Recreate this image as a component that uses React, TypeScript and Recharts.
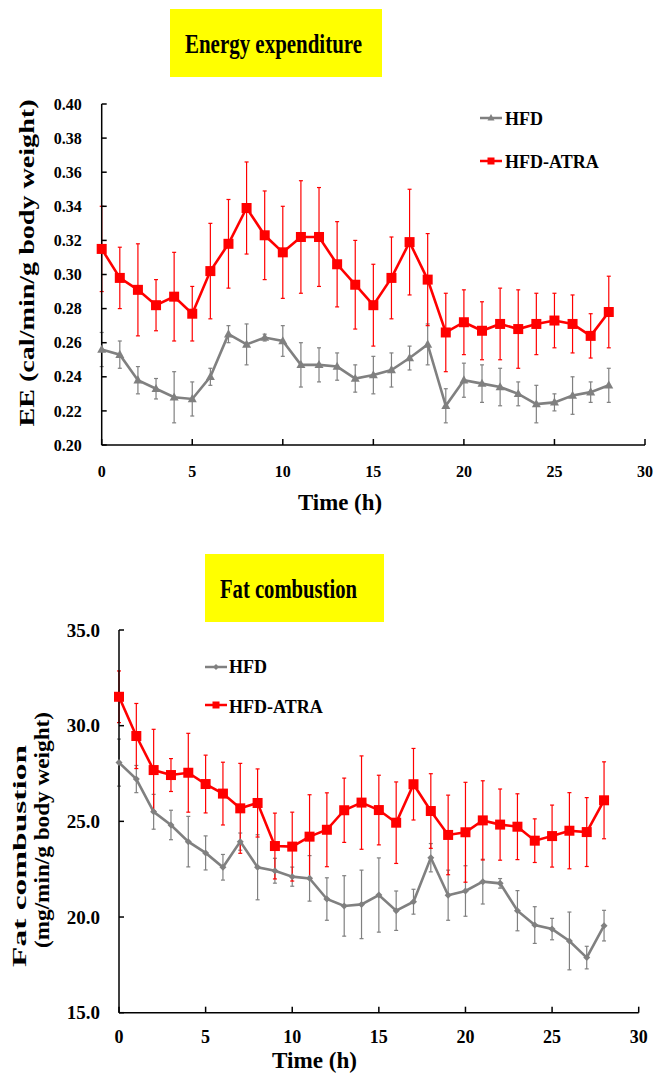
import React from 'react';
import { LineChart, Line, XAxis, YAxis, ErrorBar } from 'recharts';

const FONT = '"Liberation Serif", "Times New Roman", serif';

// ---------- data ----------
const hours = [0, 1, 2, 3, 4, 5, 6, 7, 8, 9, 10, 11, 12, 13, 14, 15, 16, 17, 18, 19, 20, 21, 22, 23, 24, 25, 26, 27, 28];

const eeHFD = [0.256, 0.253, 0.238, 0.233, 0.228, 0.227, 0.240, 0.265, 0.259, 0.263, 0.261, 0.247, 0.247, 0.246, 0.239, 0.241, 0.244, 0.251, 0.259, 0.223, 0.238, 0.236, 0.234, 0.230, 0.224, 0.225, 0.229, 0.231, 0.235];
const eeHFDErr = [0.010, 0.008, 0.008, 0.006, 0.015, 0.010, 0.005, 0.005, 0.012, 0.002, 0.009, 0.013, 0.010, 0.008, 0.008, 0.011, 0.010, 0.007, 0.012, 0.010, 0.010, 0.011, 0.011, 0.007, 0.011, 0.005, 0.011, 0.006, 0.010];
const eeATRA = [0.315, 0.298, 0.291, 0.282, 0.287, 0.277, 0.302, 0.318, 0.339, 0.323, 0.313, 0.322, 0.322, 0.306, 0.294, 0.282, 0.298, 0.319, 0.297, 0.266, 0.272, 0.267, 0.271, 0.268, 0.271, 0.273, 0.271, 0.264, 0.278];
const eeATRAErr = [0.025, 0.018, 0.027, 0.015, 0.026, 0.016, 0.028, 0.026, 0.027, 0.026, 0.027, 0.033, 0.029, 0.025, 0.026, 0.024, 0.024, 0.031, 0.027, 0.023, 0.019, 0.017, 0.021, 0.023, 0.018, 0.016, 0.017, 0.013, 0.021];

const fatHFD = [28.07, 27.21, 25.50, 24.81, 23.94, 23.35, 22.60, 23.94, 22.60, 22.42, 22.11, 22.02, 20.94, 20.58, 20.66, 21.15, 20.33, 20.80, 23.10, 21.14, 21.36, 21.85, 21.76, 20.33, 19.58, 19.37, 18.75, 17.88, 19.55];
const fatHFDErr = [1.23, 0.71, 0.91, 0.77, 1.32, 0.89, 0.67, 0.45, 1.70, 0.65, 0.50, 1.19, 1.11, 1.58, 1.79, 1.94, 1.03, 0.65, 0.74, 1.31, 1.32, 1.17, 0.25, 1.05, 0.96, 0.56, 1.51, 0.59, 0.80];
const fatATRA = [31.51, 29.46, 27.68, 27.42, 27.54, 26.95, 26.45, 25.68, 25.96, 23.71, 23.68, 24.20, 24.56, 25.58, 25.98, 25.59, 24.93, 26.94, 25.54, 24.29, 24.43, 25.05, 24.83, 24.72, 23.99, 24.23, 24.51, 24.44, 26.10];
const fatATRAErr = [1.35, 1.70, 2.13, 0.86, 2.06, 1.51, 1.64, 2.35, 1.78, 1.72, 1.80, 2.19, 1.93, 1.68, 2.44, 1.82, 2.13, 1.87, 1.95, 2.08, 2.61, 2.07, 1.86, 1.72, 1.14, 1.62, 1.99, 1.80, 2.01];

const xTicks = [0, 5, 10, 15, 20, 25, 30];
const eeTicks = [0.2, 0.22, 0.24, 0.26, 0.28, 0.3, 0.32, 0.34, 0.36, 0.38, 0.4];
const fatTicks = [15, 20, 25, 30, 35];

const seriesNames = ['HFD', 'HFD-ATRA'];

const eeData = hours.map((h, i) => ({ h, hfd: eeHFD[i], hfdErr: eeHFDErr[i], atra: eeATRA[i], atraErr: eeATRAErr[i] }));
const fatData = hours.map((h, i) => ({ h, hfd: fatHFD[i], hfdErr: fatHFDErr[i], atra: fatATRA[i], atraErr: fatATRAErr[i] }));

const RED = '#ff0000';
const GRAY = '#808080';

// ---------- markers ----------
const squareDot = (size: number) => (props: any) => {
  const { cx, cy, index } = props;
  if (cx == null || cy == null) return <g key={`s${index}`} />;
  return <rect key={`s${index}`} x={cx - size / 2} y={cy - size / 2} width={size} height={size} fill={RED} />;
};
const triangleDot = (size: number) => (props: any) => {
  const { cx, cy, index } = props;
  if (cx == null || cy == null) return <g key={`t${index}`} />;
  const h = size * 0.9;
  return <polygon key={`t${index}`} points={`${cx},${cy - h * 0.6} ${cx - size / 2},${cy + h * 0.4} ${cx + size / 2},${cy + h * 0.4}`} fill={GRAY} />;
};
const diamondDot = (size: number) => (props: any) => {
  const { cx, cy, index } = props;
  if (cx == null || cy == null) return <g key={`d${index}`} />;
  const r = size / 2;
  return <polygon key={`d${index}`} points={`${cx},${cy - r} ${cx + r},${cy} ${cx},${cy + r} ${cx - r},${cy}`} fill={GRAY} />;
};

// ---------- ticks ----------
const makeYTick = (fontSize: number, digits: number, margin: number) => (props: any) => {
  const { x, y, payload } = props;
  return (
    <g>
      <line x1={x + margin} x2={x + margin + 5} y1={y} y2={y} stroke="#000" strokeWidth={1.5} />
      <text x={x} y={y} dy="0.355em" textAnchor="end" fontFamily={FONT} fontWeight="bold" fontSize={fontSize} fill="#000">
        {Number(payload.value).toFixed(digits)}
      </text>
    </g>
  );
};
const makeXTick = (fontSize: number, margin: number) => (props: any) => {
  const { x, y, payload } = props;
  return (
    <g>
      <line x1={x} x2={x} y1={y - margin} y2={y - margin - 6} stroke="#000" strokeWidth={1.5} />
      <text x={x} y={y} dy="0.71em" textAnchor="middle" fontFamily={FONT} fontWeight="bold" fontSize={fontSize} fill="#000">
        {payload.value}
      </text>
    </g>
  );
};

const axisLine = { stroke: '#000', strokeWidth: 1.5 };

const txt = { fontFamily: FONT, fontWeight: 'bold' as const, fill: '#000' };

export default function App() {
  return (
    <div style={{ position: 'absolute', left: 0, top: 0, width: 672, height: 1081, background: '#fff', overflow: 'hidden' }}>
      {/* Energy expenditure chart */}
      <div style={{ position: 'absolute', left: 0, top: 0 }}>
        <LineChart width={672} height={540} data={eeData} margin={{ top: 104, right: 27, bottom: 65, left: 41.7 }}>
          <XAxis
            type="number"
            dataKey="h"
            domain={[0, 30]}
            ticks={xTicks}
            interval={0}
            height={30}
            tickSize={0}
            tickMargin={21}
            axisLine={axisLine}
            tickLine={false}
            tick={makeXTick(16, 21)}
          />
          <YAxis
            type="number"
            domain={[0.2, 0.4]}
            ticks={eeTicks}
            interval={0}
            width={60}
            tickSize={0}
            tickMargin={20}
            axisLine={axisLine}
            tickLine={false}
            tick={makeYTick(16, 2, 20)}
          />
          <Line dataKey="hfd" name={seriesNames[0]} stroke={GRAY} strokeWidth={2.6} dot={triangleDot(9)} activeDot={false} isAnimationActive={false}>
            <ErrorBar dataKey="hfdErr" direction="y" width={2} stroke={GRAY} strokeWidth={1.2} />
          </Line>
          <Line dataKey="atra" name={seriesNames[1]} stroke={RED} strokeWidth={2.6} dot={squareDot(10)} activeDot={false} isAnimationActive={false}>
            <ErrorBar dataKey="atraErr" direction="y" width={2} stroke={RED} strokeWidth={1.2} />
          </Line>
        </LineChart>
      </div>

      {/* Fat combustion chart */}
      <div style={{ position: 'absolute', left: 0, top: 540 }}>
        <LineChart width={672} height={541} data={fatData} margin={{ top: 90, right: 33.3, bottom: 38.3, left: 59 }}>
          <XAxis
            type="number"
            dataKey="h"
            domain={[0, 30]}
            ticks={xTicks}
            interval={0}
            height={30}
            tickSize={0}
            tickMargin={18}
            axisLine={axisLine}
            tickLine={false}
            tick={makeXTick(18, 18)}
          />
          <YAxis
            type="number"
            domain={[15, 35]}
            ticks={fatTicks}
            interval={0}
            width={60}
            tickSize={0}
            tickMargin={19}
            axisLine={axisLine}
            tickLine={false}
            tick={makeYTick(19, 1, 19)}
          />
          <Line dataKey="hfd" name={seriesNames[0]} stroke={GRAY} strokeWidth={2.6} dot={diamondDot(7)} activeDot={false} isAnimationActive={false}>
            <ErrorBar dataKey="hfdErr" direction="y" width={2} stroke={GRAY} strokeWidth={1.2} />
          </Line>
          <Line dataKey="atra" name={seriesNames[1]} stroke={RED} strokeWidth={2.6} dot={squareDot(10)} activeDot={false} isAnimationActive={false}>
            <ErrorBar dataKey="atraErr" direction="y" width={2} stroke={RED} strokeWidth={1.2} />
          </Line>
        </LineChart>
      </div>

      {/* Titles, axis titles and legends */}
      <svg width={672} height={1081} style={{ position: 'absolute', left: 0, top: 0, pointerEvents: 'none' }}>
        {/* top title */}
        <rect x={170} y={9} width={212} height={68} fill="#ffff00" />
        <text x={273.5} y={52.5} textAnchor="middle" fontSize={28} textLength={177} lengthAdjust="spacingAndGlyphs" {...txt}>Energy expenditure</text>

        {/* top axis titles */}
        <text x={340} y={510} textAnchor="middle" fontSize={24} textLength={84} lengthAdjust="spacingAndGlyphs" {...txt}>Time (h)</text>
        <text
          x={0}
          y={0}
          transform="translate(34 263) rotate(-90)"
          textAnchor="middle"
          fontSize={21}
          textLength={327}
          lengthAdjust="spacingAndGlyphs"
          {...txt}
        >
          EE (cal/min/g body weight)
        </text>

        {/* top legend */}
        <line x1={480} x2={502} y1={118} y2={118} stroke={GRAY} strokeWidth={2.5} />
        <polygon points="491,114 487.5,120.5 494.5,120.5" fill={GRAY} />
        <text x={505} y={125} fontSize={18} {...txt}>{seriesNames[0]}</text>
        <line x1={480} x2={502} y1={161} y2={161} stroke={RED} strokeWidth={2.5} />
        <rect x={487.5} y={157.5} width={7} height={7} fill={RED} />
        <text x={505} y={167.5} fontSize={18} {...txt}>{seriesNames[1]}</text>

        {/* bottom title */}
        <rect x={205} y={554} width={179} height={68} fill="#ffff00" />
        <text x={288.5} y={598} textAnchor="middle" fontSize={28} textLength={137} lengthAdjust="spacingAndGlyphs" {...txt}>Fat combustion</text>

        {/* bottom axis titles */}
        <text x={314.5} y={1068} textAnchor="middle" fontSize={24} textLength={85} lengthAdjust="spacingAndGlyphs" {...txt}>Time (h)</text>
        <text
          x={0}
          y={0}
          transform="translate(26 856) rotate(-90)"
          textAnchor="middle"
          fontSize={19}
          textLength={222}
          lengthAdjust="spacingAndGlyphs"
          {...txt}
        >
          Fat combustion
        </text>
        <text
          x={0}
          y={0}
          transform="translate(48.5 830) rotate(-90)"
          textAnchor="middle"
          fontSize={20}
          textLength={236}
          lengthAdjust="spacingAndGlyphs"
          {...txt}
        >
          (mg/min/g body  weight)
        </text>

        {/* bottom legend */}
        <line x1={205} x2={227} y1={667} y2={667} stroke={GRAY} strokeWidth={2.5} />
        <polygon points="216,664 219,667 216,670 213,667" fill={GRAY} />
        <text x={229} y={673} fontSize={18} {...txt}>{seriesNames[0]}</text>
        <line x1={205} x2={227} y1={705} y2={705} stroke={RED} strokeWidth={2.5} />
        <rect x={212.5} y={701.5} width={7} height={7} fill={RED} />
        <text x={229} y={713} fontSize={18} {...txt}>{seriesNames[1]}</text>
      </svg>
    </div>
  );
}
